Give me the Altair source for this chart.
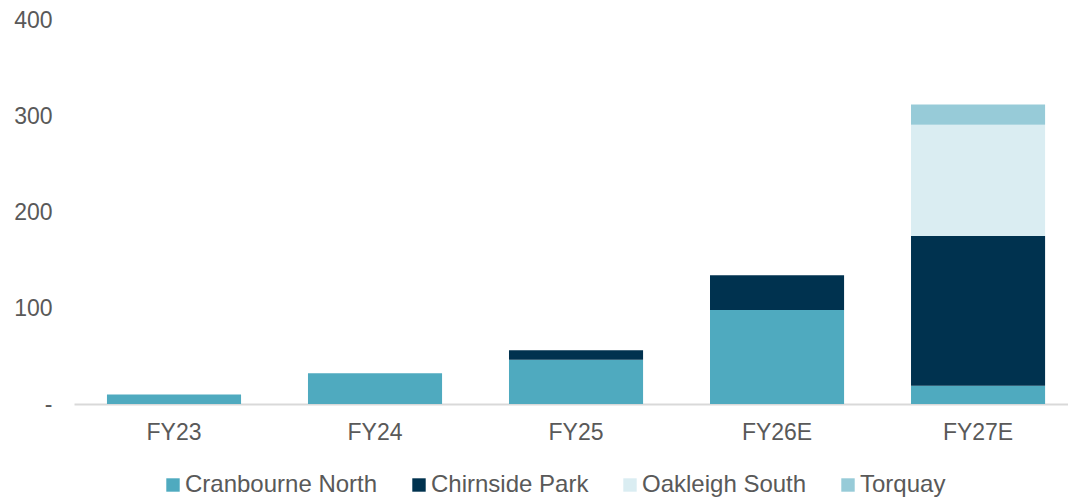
import altair as alt
import pandas as pd

years = ["FY23", "FY24", "FY25", "FY26E", "FY27E"]
series = ["Cranbourne North", "Chirnside Park", "Oakleigh South", "Torquay"]
cranbourne = [10, 32, 46, 98, 19]
chirnside = [0, 0, 10, 36, 156]
oakleigh = [0, 0, 0, 0, 116]
torquay = [0, 0, 0, 0, 21]
colors = ["#4FAABF", "#00324F", "#DAEDF2", "#97CBD8"]

rows = []
for si, (name, vals) in enumerate(zip(series, [cranbourne, chirnside, oakleigh, torquay])):
    for y, v in zip(years, vals):
        rows.append({"year": y, "series": name, "value": v, "order": si})
df = pd.DataFrame(rows)

font = "Liberation Sans"
gray = "#595959"
chart = alt.Chart(df).mark_bar().encode(
    x=alt.X("year:N", sort=years, title=None,
            scale=alt.Scale(paddingInner=0.333, paddingOuter=0.139, align=0.59),
            axis=alt.Axis(labelAngle=0, domainColor="#D9D9D9", domainWidth=2, ticks=False,
                          labelPadding=17, labelFontSize=23, labelColor=gray, labelFont=font)),
    y=alt.Y("value:Q", stack="zero", title=None,
            scale=alt.Scale(domain=[0, 400]),
            axis=alt.Axis(values=[0, 100, 200, 300, 400], grid=False, domain=False, ticks=False,
                          labelExpr="datum.value == 0 ? '-' : datum.label",
                          labelPadding=22, labelFontSize=23, labelColor=gray, labelFont=font)),
    color=alt.Color("series:N", sort=series,
                    scale=alt.Scale(domain=series, range=colors),
                    legend=alt.Legend(title=None, orient="none", direction="horizontal",
                                      legendX=87, legendY=453, symbolType="square", symbolSize=180,
                                      symbolStrokeWidth=0, labelFontSize=24, labelColor=gray,
                                      labelFont=font, columnPadding=29, labelOffset=0,
                                      labelLimit=400, padding=0)),
    order=alt.Order("order:Q", sort="ascending"),
).properties(
    width=994, height=384,
    autosize=alt.AutoSizeParams(type="none"),
    padding={"left": 74, "top": 20, "right": 0, "bottom": 94},
).configure(background="white").configure_view(stroke=None)

chart.save("out.html", embed_options={"renderer": "svg", "actions": False})
